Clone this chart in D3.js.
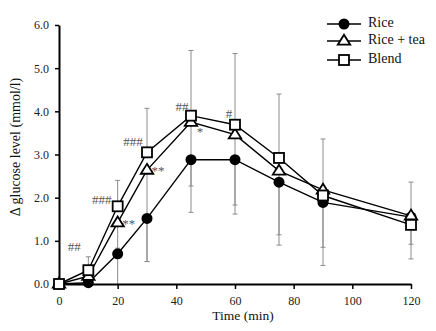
<!DOCTYPE html>
<html><head><meta charset="utf-8">
<script src="https://cdn.jsdelivr.net/npm/d3@7"></script>
<style>body{margin:0;background:#fff}svg{display:block}text{font-family:"Liberation Serif","Times New Roman",serif}</style>
</head><body>
<script>
const times = [0, 10, 20, 30, 45, 60, 75, 90, 120];
const rice = [0, 0.03, 0.70, 1.52, 2.88, 2.88, 2.36, 1.89, 1.55];
const riceTea = [0, 0.18, 1.42, 2.64, 3.75, 3.46, 2.62, 2.18, 1.58];
const blend = [0, 0.32, 1.80, 3.05, 3.90, 3.69, 2.92, 2.05, 1.37];
const riceSD = [0, 0.03, 0.70, 1.00, 1.22, 1.26, 1.46, 1.46, 0.97];
const riceTeaSD = [0, 0.18, 0.59, 2.12, 1.48, 1.63, 1.48, 1.33, 0.66];
const blendSD = [0, 0.31, 0.60, 1.02, 1.51, 1.65, 1.48, 1.31, 0.99];
const xTicks = [0, 20, 40, 60, 80, 100, 120];
const yTicks = [0, 1, 2, 3, 4, 5, 6];
const seriesNames = ["Rice", "Rice + tea", "Blend"];
const annotations = [
  {t: 10, v: 0.32, text: "##", dx: -14, dy: -22},
  {t: 20, v: 1.80, text: "###", dx: -16, dy: -5},
  {t: 20, v: 1.42, text: "**", dx: 11, dy: 2},
  {t: 30, v: 3.05, text: "###", dx: -14, dy: -9},
  {t: 30, v: 2.64, text: "**", dx: 11, dy: 2},
  {t: 45, v: 3.90, text: "##", dx: -9, dy: -8},
  {t: 45, v: 3.75, text: "*", dx: 9, dy: 11},
  {t: 60, v: 3.69, text: "#", dx: -6, dy: -10}
];

const W = 436, H = 331;
const svg = d3.select("body").append("svg").attr("width", W).attr("height", H);
const x = d3.scaleLinear().domain([0, 120]).range([59, 411]);
const y = d3.scaleLinear().domain([0, 6]).range([284, 25]);

// error bars
const eb = svg.append("g").attr("stroke", "#8c8c8c").attr("stroke-width", 1);
function bars(vals, sds, dir) {
  times.forEach((t, i) => {
    if (sds[i] <= 0) return;
    const end = Math.max(0, vals[i] + dir * sds[i]);
    eb.append("line").attr("x1", x(t)).attr("x2", x(t)).attr("y1", y(vals[i])).attr("y2", y(end));
    if (end > 0) eb.append("line").attr("x1", x(t) - 2.5).attr("x2", x(t) + 2.5).attr("y1", y(end)).attr("y2", y(end));
  });
}
bars(blend, blendSD, 1);
bars(rice, riceSD, -1);
bars(riceTea, riceTeaSD, -1);

// axes
const xAxis = svg.append("g").attr("transform", `translate(0,${y(0)})`)
  .call(d3.axisBottom(x).tickValues(xTicks).tickSize(5).tickSizeOuter(0).tickFormat(d3.format("d")));
const yAxis = svg.append("g").attr("transform", `translate(${x(0)},0)`)
  .call(d3.axisLeft(y).tickValues(yTicks).tickSize(4).tickSizeOuter(0).tickFormat(d3.format(".1f")));
[xAxis, yAxis].forEach(a => {
  a.select(".domain").attr("stroke", "#000").attr("stroke-width", 2);
  a.selectAll(".tick line").attr("stroke", "#000").attr("stroke-width", 1.5);
  a.selectAll("text").attr("font-size", 12).attr("fill", "#222")
    .attr("font-family", "'Liberation Serif', serif");
});
xAxis.selectAll("text").attr("dy", "1.05em");
yAxis.selectAll("text").attr("dx", "-3");

// lines
const line = d3.line().x((d, i) => x(times[i])).y(d => y(d));
const data = [rice, riceTea, blend];
data.forEach(vals => {
  svg.append("path").datum(vals).attr("d", line).attr("fill", "none")
    .attr("stroke", "#000").attr("stroke-width", 1.4);
});

// markers
function marker(g, type, cx, cy) {
  if (type === 0) {
    g.append("circle").attr("cx", cx).attr("cy", cy).attr("r", 5.5).attr("fill", "#000");
  } else if (type === 1) {
    const s = 6.2;
    g.append("path").attr("d", `M${cx},${cy - s}L${cx + s},${cy + s * 0.6}L${cx - s},${cy + s * 0.6}Z`)
      .attr("fill", "#fff").attr("stroke", "#000").attr("stroke-width", 1.8);
  } else {
    g.append("rect").attr("x", cx - 5).attr("y", cy - 5).attr("width", 10).attr("height", 10)
      .attr("fill", "#fff").attr("stroke", "#000").attr("stroke-width", 1.8);
  }
}
const mg = svg.append("g");
data.forEach((vals, k) => vals.forEach((v, i) => marker(mg, k, x(times[i]), y(v))));

// annotations
annotations.forEach(a => {
  svg.append("text").attr("x", x(a.t) + a.dx).attr("y", y(a.v) + a.dy)
    .attr("text-anchor", "middle").attr("dominant-baseline", "middle")
    .attr("font-size", 13).attr("fill", "#555").text(a.text);
});

// legend
const lg = svg.append("g");
seriesNames.forEach((n, k) => {
  const ly = [24, 41, 60][k];
  lg.append("line").attr("x1", 327).attr("x2", 361).attr("y1", ly).attr("y2", ly)
    .attr("stroke", "#000").attr("stroke-width", 1.5);
  marker(lg, k, 344, ly);
  lg.append("text").attr("x", 368).attr("y", ly).attr("dominant-baseline", "middle")
    .attr("font-size", 14).attr("fill", "#111").text(n);
});

// axis titles
svg.append("text").attr("x", 243).attr("y", 320).attr("text-anchor", "middle")
  .attr("font-size", 13.5).attr("fill", "#111").text("Time (min)");
svg.append("text").attr("transform", "translate(17,147) rotate(-90)").attr("text-anchor", "middle")
  .attr("dominant-baseline", "middle").attr("font-size", 14).attr("fill", "#111")
  .text("Δ glucose level (mmol/l)");
</script>
</body></html>
